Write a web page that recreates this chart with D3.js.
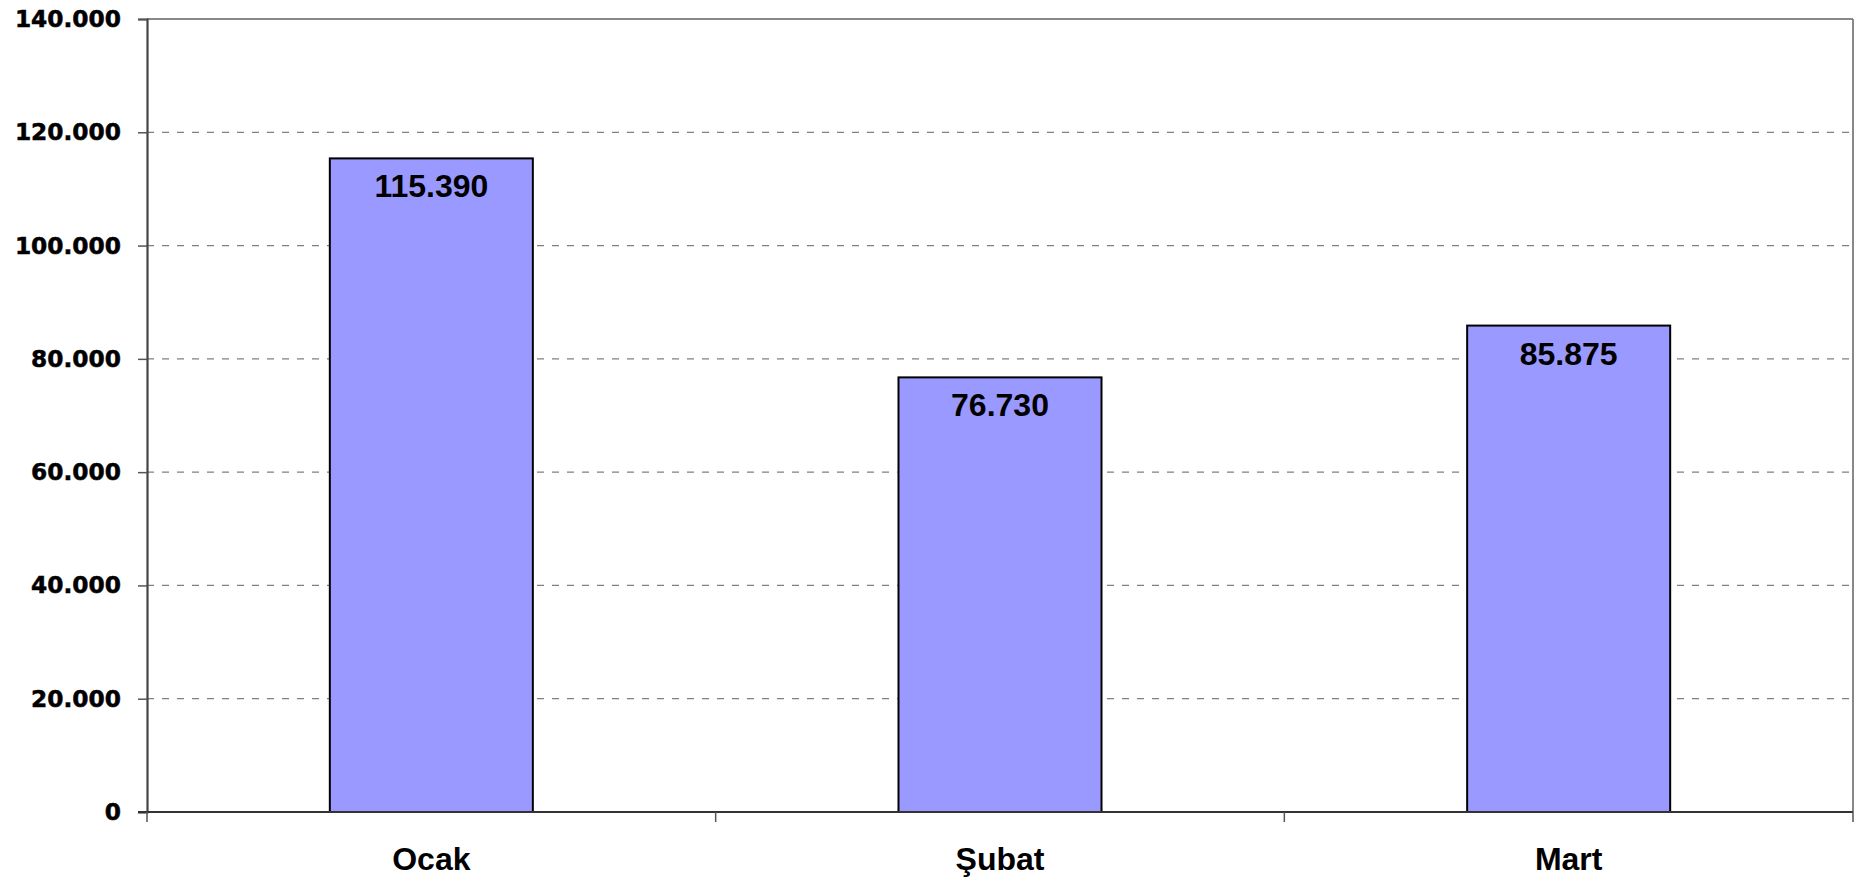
<!DOCTYPE html>
<html><head><meta charset="utf-8">
<script src="https://cdn.jsdelivr.net/npm/d3@7"></script>
<style>
html,body{margin:0;padding:0;background:#fff;}
svg{display:block;}
</style>
</head><body>
<svg id="chart" width="1861" height="882"></svg>
<script>
const categories = ["Ocak", "Şubat", "Mart"];
const values = [115390, 76730, 85875];
const valueLabels = ["115.390", "76.730", "85.875"];
const yTicks = [0, 20000, 40000, 60000, 80000, 100000, 120000, 140000];
const yTickLabels = ["0", "20.000", "40.000", "60.000", "80.000", "100.000", "120.000", "140.000"];

const W = 1861, H = 882;
const m = {left: 147, top: 19, right: 1853, bottom: 812};
const svg = d3.select("#chart");

const x = d3.scaleBand().domain(categories).range([m.left, m.right]).paddingInner(0.643).paddingOuter(0.3215);
const y = d3.scaleLinear().domain([0, 140000]).range([m.bottom, m.top]);

// gridlines
svg.append("g").selectAll("line").data(yTicks.filter(t => t > 0 && t < 140000)).join("line")
  .attr("x1", m.left).attr("x2", m.right)
  .attr("y1", d => y(d)).attr("y2", d => y(d))
  .attr("stroke", "#808080").attr("stroke-width", 1.3).attr("stroke-dasharray", "7,8");

// plot border top/right
svg.append("line").attr("x1", m.left).attr("x2", m.right).attr("y1", m.top).attr("y2", m.top)
  .attr("stroke", "#888").attr("stroke-width", 2);
svg.append("line").attr("x1", m.right).attr("x2", m.right).attr("y1", m.top).attr("y2", m.bottom)
  .attr("stroke", "#888").attr("stroke-width", 2);

// bars
svg.append("g").selectAll("rect").data(values).join("rect")
  .attr("x", (d, i) => x(categories[i]))
  .attr("width", x.bandwidth())
  .attr("y", d => y(d))
  .attr("height", d => y(0) - y(d))
  .attr("fill", "#9999FF").attr("stroke", "#000").attr("stroke-width", 2);

// bar labels
svg.append("g").selectAll("text").data(values).join("text")
  .attr("x", (d, i) => x(categories[i]) + x.bandwidth() / 2)
  .attr("y", d => y(d) + 39)
  .attr("text-anchor", "middle")
  .attr("font-family", "'Liberation Sans', Arial, sans-serif")
  .attr("font-weight", "bold").attr("font-size", 32).attr("fill", "#000")
  .text((d, i) => valueLabels[i]);

// y axis
const yAxis = d3.axisLeft(y).tickValues(yTicks).tickSize(9).tickPadding(17)
  .tickFormat((d, i) => yTickLabels[i]);
const gy = svg.append("g").attr("transform", `translate(${m.left},0)`).call(yAxis);
gy.select(".domain").attr("stroke", "#444").attr("stroke-width", 2.2);
gy.selectAll(".tick line").attr("stroke", "#555").attr("stroke-width", 1.5);
gy.selectAll(".tick text").attr("font-family", "'DejaVu Sans', Verdana, sans-serif")
  .attr("font-weight", "bold").attr("font-size", 23.3).attr("fill", "#000")
  .attr("stroke", "#000").attr("stroke-width", 0.5);

// x axis: ticks at band boundaries
const xBounds = [m.left, ...categories.map((c, i) => m.left + (m.right - m.left) * (i + 1) / categories.length)];
svg.append("line").attr("x1", m.left - 9).attr("x2", m.right).attr("y1", m.bottom).attr("y2", m.bottom)
  .attr("stroke", "#333").attr("stroke-width", 2);
svg.append("g").selectAll("line").data(xBounds).join("line")
  .attr("x1", d => d).attr("x2", d => d).attr("y1", m.bottom).attr("y2", m.bottom + 10)
  .attr("stroke", "#555").attr("stroke-width", 1.5);
svg.append("g").selectAll("text").data(categories).join("text")
  .attr("x", d => x(d) + x.bandwidth() / 2)
  .attr("y", 870)
  .attr("text-anchor", "middle")
  .attr("font-family", "'Liberation Sans', Arial, sans-serif")
  .attr("font-weight", "bold").attr("font-size", 32).attr("fill", "#000")
  .text(d => d);
</script>
</body></html>
